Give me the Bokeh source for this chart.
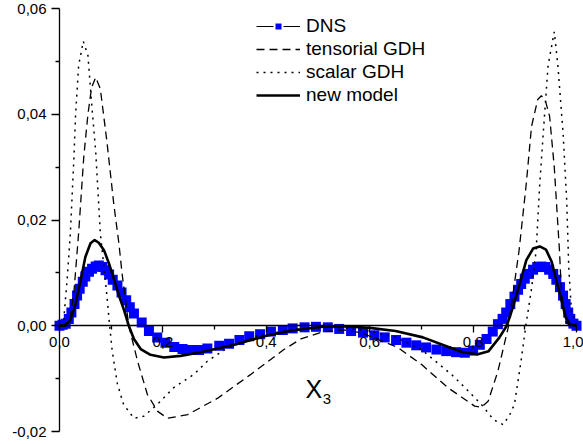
from bokeh.plotting import figure
from bokeh.models import Range1d, FixedTicker, Legend, LegendItem, Label
from bokeh.embed import file_html
from bokeh.resources import INLINE

FONT = "Liberation Sans"

# ---- data ----
dns_x = [0, 0.006, 0.012, 0.018, 0.023, 0.029, 0.034, 0.039, 0.045, 0.050, 0.057, 0.063,
         0.070, 0.076, 0.083, 0.089, 0.096, 0.103, 0.112, 0.120, 0.129, 0.136, 0.144, 0.159,
         0.173, 0.189, 0.205, 0.222, 0.238, 0.254, 0.270, 0.286, 0.309, 0.328, 0.348, 0.367,
         0.388, 0.409, 0.432, 0.451, 0.474, 0.496, 0.519, 0.541, 0.564, 0.587, 0.609, 0.629,
         0.651, 0.671, 0.690, 0.709, 0.729, 0.748, 0.767, 0.784, 0.800, 0.813, 0.826, 0.838,
         0.848, 0.857, 0.864, 0.872, 0.880, 0.887, 0.893, 0.900, 0.908, 0.916, 0.924, 0.932,
         0.940, 0.947, 0.955, 0.961, 0.968, 0.974, 0.979, 0.984, 0.988, 0.994, 1.0]
dns_y = [0, 0.0002, 0.0004, 0.0013, 0.0025, 0.0041, 0.0057, 0.0070, 0.0083, 0.0093, 0.0102, 0.0108,
         0.0112, 0.0114, 0.0111, 0.0105, 0.0097, 0.0087, 0.0076, 0.0063, 0.0048, 0.0035, 0.0023, 0.0006,
         -0.0010, -0.0022, -0.0032, -0.0040, -0.0044, -0.0046, -0.0046, -0.0043, -0.0038, -0.0034, -0.0027, -0.0020,
         -0.0016, -0.0011, -0.0008, -0.0005, -0.0003, -0.0002, -0.0003, -0.0006, -0.0010, -0.0013, -0.0018, -0.0022,
         -0.0027, -0.0032, -0.0037, -0.0041, -0.0045, -0.0048, -0.0050, -0.0051, -0.0047, -0.0036, -0.0025, -0.0011,
         0.0003, 0.0013, 0.0025, 0.0041, 0.0055, 0.0068, 0.0079, 0.0089, 0.0098, 0.0106, 0.0111, 0.0112,
         0.0111, 0.0106, 0.0098, 0.0087, 0.0073, 0.0057, 0.0041, 0.0025, 0.0013, 0.0004, 0]

tens_x = [0, 0.010, 0.021, 0.028, 0.037, 0.047, 0.055, 0.062, 0.070, 0.079, 0.092, 0.105, 0.115,
          0.121, 0.134, 0.151, 0.170, 0.190, 0.209, 0.248, 0.306, 0.370, 0.434, 0.467, 0.510,
          0.550, 0.583, 0.654, 0.700, 0.751, 0.803, 0.816, 0.829, 0.848, 0.868, 0.880, 0.889,
          0.903, 0.913, 0.925, 0.932, 0.940, 0.948, 0.957, 0.967, 0.971, 0.980, 0.990, 1.0]
tens_y = [0, 0.0002, 0.0016, 0.0065, 0.0175, 0.032, 0.040, 0.045, 0.047, 0.0448, 0.0346, 0.023, 0.0155,
          0.0099, 0, -0.0067, -0.013, -0.0162, -0.0175, -0.0168, -0.0137, -0.0092, -0.0045, -0.0025, -0.0011,
          -0.0008, -0.0013, -0.0041, -0.0073, -0.0117, -0.0152, -0.0154, -0.0143, -0.0086, -0.0003, 0.008, 0.0143,
          0.027, 0.0377, 0.0428, 0.0435, 0.0425, 0.0396, 0.030, 0.0143, 0.006, 0.0005, 0, 0]

scal_x = [0, 0.008, 0.015, 0.021, 0.028, 0.031, 0.037, 0.046, 0.055, 0.063, 0.070, 0.079, 0.092,
          0.096, 0.102, 0.112, 0.124, 0.144, 0.163, 0.189, 0.221, 0.260, 0.286, 0.320, 0.380,
          0.450, 0.500, 0.550, 0.600, 0.650, 0.700, 0.758, 0.777, 0.816, 0.840, 0.858, 0.870,
          0.880, 0.893, 0.902, 0.913, 0.922, 0.929, 0.938, 0.945, 0.957, 0.964, 0.974, 0.981,
          0.985, 0.990, 1.0]
scal_y = [0, 0.001, 0.009, 0.0175, 0.032, 0.0397, 0.0492, 0.0538, 0.0511, 0.041, 0.033, 0.0175, 0.0054,
          0.001, -0.0048, -0.011, -0.0149, -0.0175, -0.0171, -0.0149, -0.0117, -0.0092, -0.0067, -0.0045, -0.002,
          -0.0007, -0.0003, -0.0004, -0.001, -0.0022, -0.0045, -0.0092, -0.011, -0.0149, -0.0178, -0.0187, -0.017,
          -0.0149, -0.0065, 0.0, 0.007, 0.0143, 0.027, 0.0396, 0.0492, 0.0556, 0.0492, 0.0365, 0.0238,
          0.0111, 0.003, 0]

new_x = [0, 0.010, 0.021, 0.031, 0.041, 0.050, 0.060, 0.068, 0.076, 0.086, 0.096, 0.105, 0.115,
         0.125, 0.134, 0.144, 0.157, 0.176, 0.202, 0.234, 0.273, 0.338, 0.400, 0.450, 0.509,
         0.550, 0.600, 0.650, 0.703, 0.755, 0.780, 0.809, 0.830, 0.851, 0.865, 0.877, 0.890,
         0.903, 0.916, 0.929, 0.941, 0.952, 0.961, 0.971, 0.979, 0.987, 1.0]
new_y = [0, 0, 0.0010, 0.0041, 0.0086, 0.0130, 0.0156, 0.0162, 0.0157, 0.0143, 0.0117, 0.0089, 0.0057,
         0.0029, 0, -0.0025, -0.0044, -0.0055, -0.0060, -0.0057, -0.0050, -0.0036, -0.0019, -0.0009, -0.0002,
         -0.0001, -0.0004, -0.0010, -0.0022, -0.0041, -0.0050, -0.0054, -0.0048, -0.0022, 0, 0.0035, 0.0079,
         0.0124, 0.0146, 0.0150, 0.0144, 0.0121, 0.0086, 0.0048, 0.0016, 0.0003, 0]

x_ticks = [0.0, 0.2, 0.4, 0.6, 0.8, 1.0]
x_tick_labels = ["0,0", "0,2", "0,4", "0,6", "0,8", "1,0"]
x_minor = [0.1, 0.3, 0.5, 0.7, 0.9]
y_ticks = [-0.02, 0.0, 0.02, 0.04, 0.06]
y_tick_labels = ["-0,02", "0,00", "0,02", "0,04", "0,06"]
y_minor = [-0.01, 0.01, 0.03, 0.05]

series_names = ["DNS", "tensorial GDH", "scalar GDH", "new model"]

# ---- figure: the frame fills the canvas, both axes sit at fixed data positions ----
W, H = 583, 444
X0PX, X1PX = 59.0, 576.0      # pixel columns of x = 0 and x = 1
YTPX, YBPX = 8.0, 431.0       # pixel rows of y = 0.06 and y = -0.02
sx = (X1PX - X0PX) / 1.0
sy = (YBPX - YTPX) / 0.08
x_range = Range1d(0 - X0PX / sx, 1 + (W - X1PX) / sx)
y_range = Range1d(-0.02 - (H - YBPX) / sy, 0.06 + YTPX / sy)

p = figure(width=W, height=H, output_backend="svg", toolbar_location=None,
           x_range=x_range, y_range=y_range,
           min_border_left=0, min_border_right=0, min_border_top=0, min_border_bottom=0)
p.outline_line_color = None
p.xgrid.visible = False
p.ygrid.visible = False
p.background_fill_color = "white"
p.border_fill_color = "white"

# y axis at x = 0
ya = p.yaxis[0]
ya.fixed_location = 0
ya.bounds = (-0.02, 0.06)
ya.ticker = FixedTicker(ticks=y_ticks, minor_ticks=y_minor)
ya.major_label_overrides = {t: l for t, l in zip(y_ticks, y_tick_labels)}
ya.axis_line_width = 1.3
ya.major_tick_line_width = 1.3
ya.minor_tick_line_width = 1.3
ya.major_tick_out = 8
ya.major_tick_in = 0
ya.minor_tick_out = 4
ya.minor_tick_in = 0
ya.major_label_standoff = 5
ya.major_label_text_font = FONT
ya.major_label_text_font_size = "15px"
ya.major_label_text_color = "black"

# x axis at y = 0
xa = p.xaxis[0]
xa.fixed_location = 0
xa.bounds = (0, 1)
xa.ticker = FixedTicker(ticks=x_ticks, minor_ticks=x_minor)
xa.major_label_overrides = {t: l for t, l in zip(x_ticks, x_tick_labels)}
xa.axis_line_width = 1.3
xa.major_tick_line_width = 1.3
xa.minor_tick_line_width = 1.3
xa.major_tick_out = 7
xa.major_tick_in = 0
xa.minor_tick_out = 4
xa.minor_tick_in = 0
xa.major_label_standoff = 4
xa.major_label_text_font = FONT
xa.major_label_text_font_size = "15px"
xa.major_label_text_color = "black"

# ---- series ----
r_dns = p.scatter(dns_x, dns_y, marker="square", size=10, fill_color="#0000ff", line_color=None)
r_tens = p.line(tens_x, tens_y, line_color="black", line_width=1.3, line_dash="8 5")
r_scal = p.line(scal_x, scal_y, line_color="black", line_width=1.5, line_dash="2 5")
r_new = p.line(new_x, new_y, line_color="black", line_width=2.6, line_join="round")

# legend-only glyphs for the DNS sample (line with square marker)
nan = float("nan")
leg_line = p.line([nan], [nan], line_color="black", line_width=1)
leg_sq = p.scatter([nan], [nan], marker="square", size=12, fill_color="#0000ff",
                   line_color="white", line_width=2)

legend = Legend(items=[
    LegendItem(label=series_names[0], renderers=[leg_line, leg_sq]),
    LegendItem(label=series_names[1], renderers=[r_tens]),
    LegendItem(label=series_names[2], renderers=[r_scal]),
    LegendItem(label=series_names[3], renderers=[r_new]),
], location=(256, 338))
legend.border_line_color = None
legend.background_fill_alpha = 0
legend.padding = 0
legend.margin = 0
legend.spacing = 1
legend.glyph_width = 44
legend.glyph_height = 20
legend.label_height = 20
legend.label_standoff = 6
legend.label_text_font = FONT
legend.label_text_font_size = "19px"
legend.label_text_color = "black"
p.add_layout(legend, "center")

# axis title "X3" inside the plot
p.add_layout(Label(x=0.476, y=-0.0119, text="X", text_font=FONT, text_font_size="25px",
                   text_baseline="alphabetic", text_color="black"))
p.add_layout(Label(x=0.509, y=-0.0138, text="3", text_font=FONT, text_font_size="15px",
                   text_baseline="alphabetic", text_color="black"))

open("out.html", "w").write(file_html(p, INLINE))
